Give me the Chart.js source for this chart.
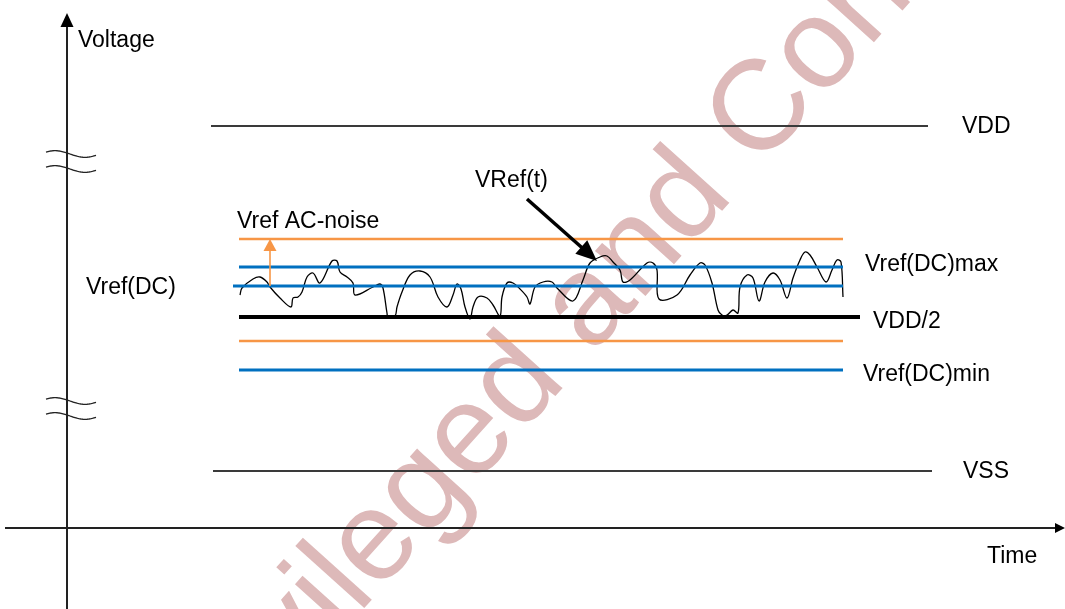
<!DOCTYPE html>
<html>
<head>
<meta charset="utf-8">
<script src="https://cdn.jsdelivr.net/npm/chart.js@4"></script>
<style>
  html, body { margin: 0; padding: 0; background: #fff; }
  #wrap { position: relative; width: 1065px; height: 609px; }
</style>
</head>
<body>
<div id="wrap"><canvas id="myChart"></canvas></div>
<script>
// reference levels (arbitrary voltage units)
const levelNames  = ['VDD', 'ACmax', 'DCmax', 'DCnom', 'VDD/2', 'ACmin', 'DCmin', 'VSS'];
const levelValues = [4.02, 2.89, 2.61, 2.42, 2.11, 1.87, 1.58, 0.57];
const levelStart  = [1.44, 1.72, 1.72, 1.66, 1.72, 1.72, 1.72, 1.46];
const levelEnd    = [8.61, 7.76, 7.76, 7.76, 7.93, 7.76, 7.76, 8.65];

// VRef(t) noise trace
const waveTime = [1.73, 1.75, 1.86, 1.93, 2.00, 2.03, 2.13, 2.24, 2.26, 2.31, 2.35, 2.40, 2.46, 2.53,
  2.65, 2.70, 2.73, 2.80, 2.86, 2.88, 3.06, 3.13, 3.16, 3.20, 3.21, 3.28, 3.30, 3.35, 3.43, 3.53,
  3.63, 3.71, 3.80, 3.86, 3.90, 3.94, 3.98, 4.03, 4.06, 4.11, 4.20, 4.26, 4.33, 4.35, 4.40, 4.46,
  4.53, 4.60, 4.63, 4.68, 4.76, 4.85, 4.90, 5.06, 5.16, 5.23, 5.33, 5.40, 5.46, 5.53, 5.56, 5.63,
  5.80, 5.86, 5.90, 5.92, 6.10, 6.23, 6.33, 6.38, 6.45, 6.51, 6.55, 6.60, 6.66, 6.71, 6.73, 6.80,
  6.86, 6.92, 6.98, 7.06, 7.13, 7.20, 7.26, 7.33, 7.38, 7.43, 7.50, 7.59, 7.65, 7.70, 7.74, 7.76];
const waveVolt = [2.33, 2.40, 2.49, 2.51, 2.46, 2.41, 2.30, 2.21, 2.30, 2.31, 2.36, 2.51, 2.55, 2.45,
  2.67, 2.67, 2.56, 2.51, 2.45, 2.33, 2.41, 2.44, 2.40, 2.15, 2.11, 2.12, 2.21, 2.36, 2.53, 2.57,
  2.51, 2.31, 2.21, 2.33, 2.44, 2.39, 2.21, 2.09, 2.21, 2.31, 2.30, 2.23, 2.12, 2.31, 2.45, 2.45,
  2.39, 2.31, 2.24, 2.41, 2.46, 2.46, 2.40, 2.27, 2.48, 2.65, 2.71, 2.72, 2.66, 2.58, 2.46, 2.48,
  2.65, 2.65, 2.58, 2.29, 2.33, 2.53, 2.65, 2.63, 2.45, 2.18, 2.13, 2.13, 2.18, 2.15, 2.41, 2.53,
  2.50, 2.27, 2.46, 2.55, 2.48, 2.30, 2.50, 2.68, 2.76, 2.73, 2.61, 2.46, 2.58, 2.68, 2.66, 2.31];

// annotations: text and anchor in (time, voltage)
const noteText = ['Voltage', 'VDD', 'VRef(t)', 'Vref AC-noise', 'Vref(DC)', 'Vref(DC)max', 'VDD/2', 'Vref(DC)min', 'VSS', 'Time'];
const noteTime = [0.11, 8.95, 4.08, 1.70, 0.19, 7.98, 8.06, 7.96, 8.96, 9.20];
const noteVolt = [4.89, 4.03, 3.49, 3.08, 2.42, 2.65, 2.08, 1.55, 0.58, -0.27];

// axis breaks on the voltage axis
const breakVolt = [3.74, 3.59, 1.27, 1.12];

const ORANGE = '#F79646';
const BLUE = '#0070C0';
const levelStyle = {
  'VDD':   { color: '#3a3a3a', width: 2 },
  'VSS':   { color: '#3a3a3a', width: 2 },
  'ACmax': { color: ORANGE, width: 2.6 },
  'ACmin': { color: ORANGE, width: 2.6 },
  'DCmax': { color: BLUE, width: 3 },
  'DCnom': { color: BLUE, width: 3 },
  'DCmin': { color: BLUE, width: 3 },
  'VDD/2': { color: '#000000', width: 4 }
};

const datasets = levelNames.map((name, i) => ({
  label: name,
  data: [{ x: levelStart[i], y: levelValues[i] }, { x: levelEnd[i], y: levelValues[i] }],
  borderColor: levelStyle[name].color,
  borderWidth: levelStyle[name].width,
  pointRadius: 0,
  borderCapStyle: 'butt'
}));

datasets.push({
  label: 'VRef(t)',
  data: waveTime.map((t, i) => ({ x: t, y: waveVolt[i] })),
  borderColor: '#000',
  borderWidth: 1.3,
  pointRadius: 0,
  tension: 0.35
});

function arrowHead(ctx, x0, y0, x1, y1, len, half, color) {
  const a = Math.atan2(y1 - y0, x1 - x0);
  ctx.save();
  ctx.fillStyle = color;
  ctx.beginPath();
  ctx.moveTo(x1, y1);
  ctx.lineTo(x1 - len * Math.cos(a) + half * Math.sin(a), y1 - len * Math.sin(a) - half * Math.cos(a));
  ctx.lineTo(x1 - len * Math.cos(a) - half * Math.sin(a), y1 - len * Math.sin(a) + half * Math.cos(a));
  ctx.closePath();
  ctx.fill();
  ctx.restore();
}

function arrow(ctx, x0, y0, x1, y1, len, half, color, lw) {
  const a = Math.atan2(y1 - y0, x1 - x0);
  ctx.save();
  ctx.strokeStyle = color;
  ctx.lineWidth = lw;
  ctx.beginPath();
  ctx.moveTo(x0, y0);
  ctx.lineTo(x1 - (len - 1) * Math.cos(a), y1 - (len - 1) * Math.sin(a));
  ctx.stroke();
  ctx.restore();
  arrowHead(ctx, x0, y0, x1, y1, len, half, color);
}

const diagramExtras = {
  id: 'diagramExtras',
  beforeDatasetsDraw: (chart) => {
    const { ctx, chartArea: { left, top, right, bottom } } = chart;
    // watermark
    ctx.save();
    ctx.translate(left + (right - left) * 0.634, top + (bottom - top) * 0.345);
    ctx.rotate(-48 * Math.PI / 180);
    ctx.font = '128px "Liberation Sans", Arial, sans-serif';
    ctx.fillStyle = '#DDB9B9';
    ctx.textAlign = 'center';
    ctx.textBaseline = 'middle';
    ctx.fillText('Privileged and Confidential', 0, 0);
    ctx.restore();
  },
  afterDatasetsDraw: (chart) => {
    const { ctx, scales: { x, y } } = chart;
    const px = v => x.getPixelForValue(v);
    const py = v => y.getPixelForValue(v);
    const ax = px(0), ay = py(0);

    ctx.save();
    ctx.strokeStyle = '#222';
    ctx.lineWidth = 2;
    ctx.beginPath();
    ctx.moveTo(ax, y.bottom);
    ctx.lineTo(ax, py(5.02));
    ctx.moveTo(px(-0.62), ay);
    ctx.lineTo(px(9.88), ay);
    ctx.stroke();
    ctx.restore();
    arrowHead(ctx, ax, py(0), ax, py(5.15), 14, 6.5, '#000');
    arrowHead(ctx, px(0), ay, px(9.98), ay, 10, 5, '#000');

    // axis break marks
    ctx.save();
    ctx.strokeStyle = '#222';
    ctx.lineWidth = 1.3;
    breakVolt.forEach(v => {
      const yc = py(v);
      ctx.beginPath();
      for (let k = 0; k <= 50; k++) {
        const xx = ax - 21 + k;
        const yy = yc - 3.3 * Math.sin(2 * Math.PI * (k + 6) / 60);
        k === 0 ? ctx.moveTo(xx, yy) : ctx.lineTo(xx, yy);
      }
      ctx.stroke();
    });
    ctx.restore();

    // AC noise arrow and VRef(t) pointer
    arrow(ctx, px(2.03), py(2.42), px(2.03), py(2.89), 12, 6.5, ORANGE, 1.6);
    arrow(ctx, px(4.60), py(3.29), px(5.30), py(2.67), 21, 9, '#000', 3.5);

    // text labels
    ctx.save();
    ctx.font = '23px "Liberation Sans", Arial, sans-serif';
    ctx.fillStyle = '#000';
    ctx.textAlign = 'left';
    ctx.textBaseline = 'alphabetic';
    noteText.forEach((t, i) => {
      ctx.fillText(t, px(noteTime[i]), py(noteVolt[i]) + 8);
    });
    ctx.restore();
  }
};

const config = {
  type: 'line',
  data: { datasets: datasets },
  options: {
    responsive: true,
    maintainAspectRatio: false,
    animation: false,
    layout: { padding: 0 },
    scales: {
      x: { type: 'linear', min: -0.67, max: 9.98, display: false },
      y: { type: 'linear', min: -0.81, max: 5.28, display: false }
    },
    plugins: {
      legend: { display: false },
      tooltip: { enabled: false }
    }
  },
  plugins: [diagramExtras]
};

const myChart = new Chart(document.getElementById('myChart'), config);
</script>
</body>
</html>
